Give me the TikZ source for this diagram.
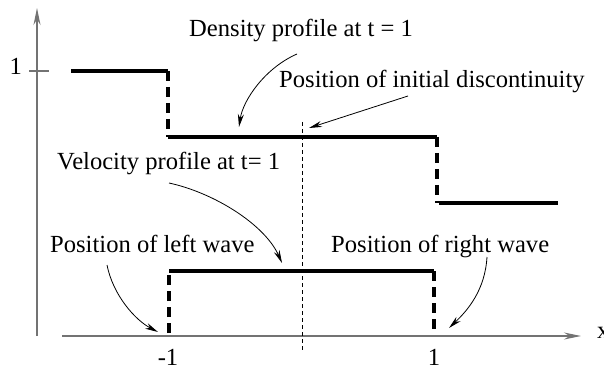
\documentclass[tikz,border=0pt]{standalone}
\usepackage{fontspec}
\setmainfont{Liberation Serif}
\usetikzlibrary{arrows.meta}
\begin{document}
\begin{tikzpicture}[x=1pt,y=-1pt,
  lbl/.style={inner sep=0pt, font=\fontsize{24.6}{28}\selectfont},
  axis/.style={draw=black!55, line width=1.5pt},
  axtip/.style={-{Stealth[length=17pt,width=7pt]}},
  prof/.style={line width=3.2pt, line join=round},
  jump/.style={line width=3.2pt, dash pattern=on 10pt off 6pt},
  ptr/.style={line width=0.8pt, -{Stealth[length=13pt,width=6pt]}},
  centre/.style={line width=0.8pt, dash pattern=on 4pt off 3pt}]
\useasboundingbox (0,0) rectangle (604,371);
% axes
\coordinate (yb) at (37,336);
\coordinate (yt) at (37,8);
\coordinate (xl) at (62,336);
\coordinate (xr) at (581,336);
\draw[axis,axtip] (yb) -- (yt);
\draw[axis,axtip] (xl) -- (xr);
\coordinate (tl) at (29,71);
\coordinate (tr) at (49,71);
\draw[axis] (tl) -- (tr);
\node[lbl, anchor=base east] (one) at (22,75) {1};
\node[lbl, anchor=base west] (xlab) at (597,338) {x};
\node[lbl, anchor=base] (m1) at (168,365) {-1};
\node[lbl, anchor=base] (p1) at (434,365) {1};
% centre line
\coordinate (ct) at (302,122);
\coordinate (cb) at (302,350);
\draw[centre] (ct) -- (cb);
% density profile
\coordinate (d1) at (71,71);
\coordinate (d2) at (168,71);
\coordinate (d3) at (168,137);
\coordinate (d4) at (437,137);
\coordinate (d5) at (437,203);
\coordinate (d6) at (439,203);
\coordinate (d7) at (558,203);
\draw[prof] (d1) -- (d2);
\draw[jump] (d2) -- (d3);
\draw[prof] (d3) -- (d4);
\draw[jump] (d4) -- (d5);
\draw[prof] (d6) -- (d7);
% velocity profile
\coordinate (v1) at (169,333);
\coordinate (v2) at (169,271);
\coordinate (v3) at (434,271);
\coordinate (v4) at (434,333);
\draw[jump] (v1) -- (v2);
\draw[prof] (v2) -- (v3);
\draw[jump] (v3) -- (v4);
% labels
\node[lbl, anchor=base west] (dens) at (189,37) {Density profile at t = 1};
\node[lbl, anchor=base west] (disc) at (279,88) {Position of initial discontinuity};
\node[lbl, anchor=base west] (vel) at (57,170) {Velocity profile at t= 1};
\node[lbl, anchor=base west] (lw) at (50,252) {Position of left wave};
\node[lbl, anchor=base west] (rw) at (331,252) {Position of right wave};
% pointers
\coordinate (a1s) at (297,54);  \coordinate (a1e) at (239,127);
\coordinate (a2s) at (408,96);  \coordinate (a2e) at (309,128);
\coordinate (a3s) at (169,183); \coordinate (a3e) at (282,263);
\coordinate (a4s) at (107,265); \coordinate (a4e) at (158,332);
\coordinate (a5s) at (487,257); \coordinate (a5e) at (449,328);
\draw[ptr] (a1s) .. controls (265,68) and (243,100) .. (a1e);
\draw[ptr] (a2s) -- (a2e);
\draw[ptr] (a3s) .. controls (215,193) and (265,225) .. (a3e);
\draw[ptr] (a4s) .. controls (113,295) and (135,320) .. (a4e);
\draw[ptr] (a5s) .. controls (485,290) and (468,310) .. (a5e);
\end{tikzpicture}
\end{document}
